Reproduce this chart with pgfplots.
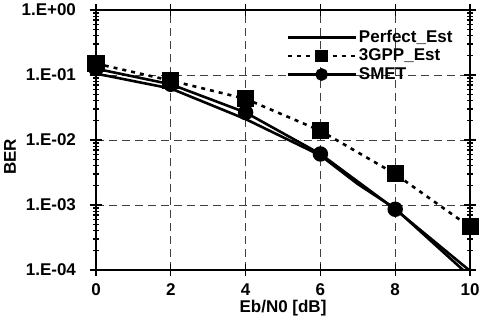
\documentclass[border=0pt]{standalone}
\usepackage{pgfplots}
\pgfplotsset{compat=1.18}
\usepackage{fontspec}
\setmainfont{Liberation Sans}
\begin{document}
\fontsize{8.5}{10}\selectfont\bfseries
\begin{tikzpicture}
\begin{semilogyaxis}[
  scale only axis,
  width=187pt, height=130pt,
  xmin=0, xmax=10, ymin=1e-4, ymax=1,
  xtick={0,2,4,6,8,10},
  xticklabels={0,2,4,6,8,10},
  ytick={1e-4,1e-3,1e-2,1e-1,1},
  yticklabels={1.E-04,1.E-03,1.E-02,1.E-01,1.E+00},
  minor ytick={},
  tick align=center,
  major tick length=6pt,
  tick style={black, line width=0.6pt},
  axis line style={black, line width=0.7pt},
  grid=major,
  major grid style={black!75, line width=0.5pt, dash pattern=on 4pt off 2.5pt},
  ticklabel style={font=\fontsize{8.5}{10}\selectfont\bfseries},
  xticklabel style={yshift=-1pt},
  yticklabel style={xshift=-4pt},
  xlabel={\textbf{Eb/N0 [dB]}},
  ylabel={\textbf{BER}},
  xlabel style={font=\fontsize{8.5}{10}\selectfont\bfseries, yshift=4pt},
  ylabel style={font=\fontsize{8.5}{10}\selectfont\bfseries, at={(ticklabel cs:0.435,-3pt)}},
  legend style={at={(0.965,0.94)}, anchor=north east, draw=none, fill=none,
    font=\fontsize{8.5}{10}\selectfont\bfseries, row sep=0pt, inner sep=1pt,
    nodes={inner sep=1pt}},
  legend cell align=left,
  legend image code/.code={\draw[mark repeat=2,mark phase=2,#1,mark size=2.5pt] plot coordinates {(0pt,0pt) (17pt,0pt) (34pt,0pt)};},
]
\addplot[black, line width=1.3pt] coordinates {
  (0,0.105) (2,0.062) (4,0.021) (6,0.0058) (7,0.0021) (8,0.00088) (10,0.00008)};
\addlegendentry{Perfect\_Est}
\addplot[black, line width=1.3pt, dash pattern=on 2pt off 2.5pt, mark=square*, mark size=3.6pt, mark options={solid}] coordinates {
  (0,0.15) (2,0.082) (4,0.043) (6,0.0139) (8,0.0030) (10,0.00046)};
\addlegendentry{3GPP\_Est}
\addplot[black, line width=1.3pt, mark=*, mark size=3.2pt] coordinates {
  (0,0.125) (2,0.072) (4,0.0265) (6,0.0061) (8,0.00086) (10,0.000097)};
\addlegendentry{SMET}
\end{semilogyaxis}
\pgfresetboundingbox
\path (-48pt,-26pt) rectangle (192pt,135pt);
\end{tikzpicture}
\end{document}
